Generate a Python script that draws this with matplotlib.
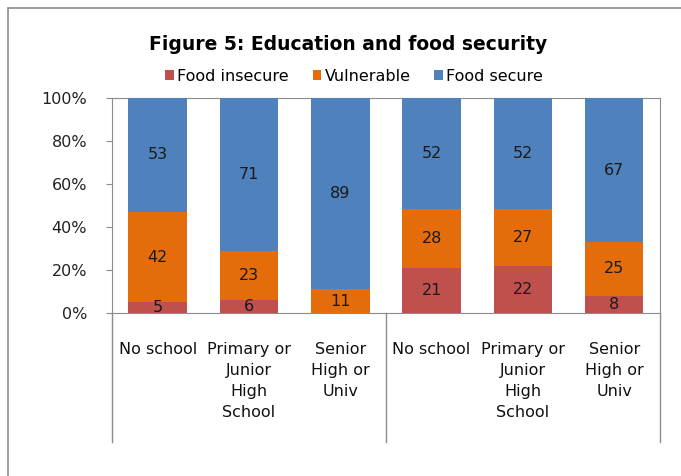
import numpy as np
import matplotlib.pyplot as plt
from matplotlib.patches import Rectangle

# Data
categories = ["No school", "Primary or\nJunior\nHigh\nSchool", "Senior\nHigh or\nUniv",
              "No school", "Primary or\nJunior\nHigh\nSchool", "Senior\nHigh or\nUniv"]
food_insecure = [5, 6, 0, 21, 22, 8]
vulnerable = [42, 23, 11, 28, 27, 25]
food_secure = [53, 71, 89, 52, 52, 67]
series_names = ["Food insecure", "Vulnerable", "Food secure"]
colors = ["#C0504D", "#E46C0A", "#4F81BD"]
yticks = [0, 20, 40, 60, 80, 100]

plt.rcParams["font.family"] = ["DejaVu Sans"]
FS = 11.5

fig = plt.figure(figsize=(6.81, 4.76), dpi=100)
ax = fig.add_axes([0.1645, 0.3424, 0.8045, 0.4517])

# outer chart frame
fig.patches.append(Rectangle((8 / 681, -0.1), 1.2, 1 - 8 / 476 + 0.1,
                             transform=fig.transFigure, fill=False,
                             edgecolor="#8C8C8C", lw=1.2))

vals = np.array([food_insecure, vulnerable, food_secure], dtype=float)
pct = vals / vals.sum(axis=0) * 100
x = np.arange(len(categories))
bottom = np.zeros(len(categories))
for i in range(3):
    bars = ax.bar(x, pct[i], 0.64, bottom=bottom, color=colors[i],
                  label=series_names[i], zorder=3)
    for j in range(len(x)):
        if vals[i, j] > 0:
            ax.text(x[j], bottom[j] + pct[i, j] / 2, f"{int(vals[i, j])}",
                    ha="center", va="center", fontsize=FS, color="#1A1A1A",
                    zorder=4)
    bottom += pct[i]

ax.set_xlim(-0.5, len(categories) - 0.5)
ax.set_ylim(0, 100)
ax.set_yticks(yticks)
ax.set_yticklabels([f"{t}%" for t in yticks], fontsize=FS, color="#222222")
ax.tick_params(axis="y", length=4, color="#8C8C8C", pad=14)
ax.set_xticks([])
for s in ax.spines.values():
    s.set_color("#8C8C8C")

# category labels and group separators below the axis
for j, c in enumerate(categories):
    ax.text(x[j], -0.135, c, transform=ax.get_xaxis_transform(), ha="center",
            va="top", fontsize=FS, linespacing=1.5, color="#111111")
for xs in [-0.5, 2.5, 5.5]:
    ax.plot([xs, xs], [0, -0.6], transform=ax.get_xaxis_transform(),
            color="#8C8C8C", lw=1.0, clip_on=False)

fig.text(0.511, 0.907, "Figure 5: Education and food security", ha="center",
         va="center", fontsize=13.5, fontweight="bold")
fig.legend(loc="center", bbox_to_anchor=(0.52, 0.84), ncol=3, frameon=False,
           fontsize=FS, handlelength=0.55, handleheight=0.55, handletextpad=0.2,
           columnspacing=1.5)

fig.savefig("out.png", dpi=100)
